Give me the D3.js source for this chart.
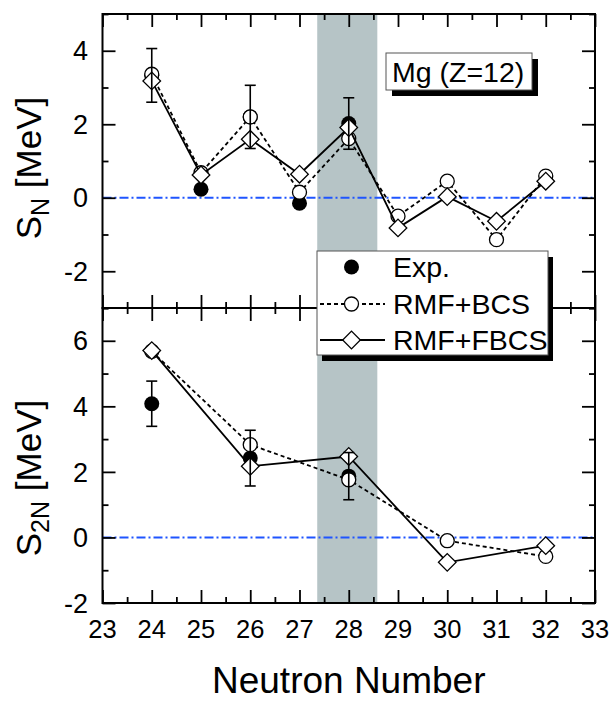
<!DOCTYPE html>
<html>
<head>
<meta charset="utf-8">
<script src="https://cdn.jsdelivr.net/npm/d3@7"></script>
<style>
  html, body { margin: 0; padding: 0; background: #fff; }
  svg { display: block; }
  text { font-family: "Liberation Sans", Arial, sans-serif; fill: #000; }
</style>
</head>
<body>
<svg id="chart" width="612" height="702"></svg>
<script>
// ---------------- data ----------------
const xTicks = [23, 24, 25, 26, 27, 28, 29, 30, 31, 32, 33];
const topYTicks = [-2, 0, 2, 4];
const botYTicks = [-2, 0, 2, 4, 6];

const neutrons = [24, 25, 26, 27, 28, 29, 30, 31, 32];
const snBCS  = [3.36, 0.68, 2.20, 0.15, 1.61, -0.50, 0.45, -1.14, 0.59];
const snFBCS = [3.18, 0.62, 1.59, 0.64, 1.91, -0.82, 0.03, -0.64, 0.45];
const snExpN   = [24, 25, 26, 27, 28];
const snExp    = [3.33, 0.23, 2.20, -0.15, 2.02];
const snExpErr = [0.73, 0.08, 0.86, 0.08, 0.70];

const s2nN    = [24, 26, 28, 30, 32];
const s2nBCS  = [5.68, 2.83, 1.76, -0.10, -0.58];
const s2nFBCS = [5.70, 2.17, 2.47, -0.76, -0.25];
const s2nExpN   = [24, 26, 28];
const s2nExp    = [4.08, 2.42, 1.87];
const s2nExpErr = [0.69, 0.85, 0.72];

const shellBand = [27.36, 28.58];
const legendLabels = ["Exp.", "RMF+BCS", "RMF+FBCS"];
const nucleusLabel = "Mg (Z=12)";

// ---------------- layout ----------------
const svg = d3.select("#chart");
const L = 102.5, R = 595, T = 14, MID = 308, B = 603;
const x = d3.scaleLinear().domain([23, 33]).range([L, R]);
const yTop = d3.scaleLinear().domain([-3, 5]).range([MID, T]);
const yBot = d3.scaleLinear().domain([-2, 7]).range([B, MID]);

function panel(y, yTicks, bcsX, bcs, fbcsX, fbcs, expX, exp, expErr) {
  const [y0, y1] = y.range(); // bottom, top
  const g = svg.append("g");
  // shaded band
  g.append("rect")
    .attr("x", x(shellBand[0])).attr("width", x(shellBand[1]) - x(shellBand[0]))
    .attr("y", y1).attr("height", y0 - y1)
    .attr("fill", "#b6c4c6");
  // zero line
  g.append("line")
    .attr("x1", L).attr("x2", R).attr("y1", y(0)).attr("y2", y(0))
    .attr("stroke", "#1f55ff").attr("stroke-width", 2)
    .attr("stroke-dasharray", "9,3,2,3");

  // Exp markers
  g.selectAll(".exp").data(expX).enter().append("circle")
    .attr("cx", d => x(d)).attr("cy", (d, i) => y(exp[i])).attr("r", 7.5)
    .attr("fill", "#000");

  // BCS
  const line = d3.line().x(d => x(d[0])).y(d => y(d[1]));
  g.append("path").datum(bcsX.map((d, i) => [d, bcs[i]]))
    .attr("d", line).attr("fill", "none").attr("stroke", "#000")
    .attr("stroke-width", 1.8).attr("stroke-dasharray", "4,3");
  g.selectAll(".bcs").data(bcsX).enter().append("circle")
    .attr("cx", d => x(d)).attr("cy", (d, i) => y(bcs[i])).attr("r", 7)
    .attr("fill", "#fff").attr("stroke", "#000").attr("stroke-width", 1.3);

  // FBCS
  g.append("path").datum(fbcsX.map((d, i) => [d, fbcs[i]]))
    .attr("d", line).attr("fill", "none").attr("stroke", "#000")
    .attr("stroke-width", 1.8);
  const diamond = d3.symbol().type(d3.symbolSquare).size(155);
  g.selectAll(".fbcs").data(fbcsX).enter().append("path")
    .attr("d", diamond())
    .attr("transform", (d, i) => `translate(${x(d)},${y(fbcs[i])}) rotate(45)`)
    .attr("fill", "#fff").attr("stroke", "#000").attr("stroke-width", 1.3);

  // error bars
  expX.forEach((d, i) => {
    const cx = x(d), hi = y(exp[i] + expErr[i]), lo = y(exp[i] - expErr[i]);
    g.append("line").attr("x1", cx).attr("x2", cx).attr("y1", hi).attr("y2", lo)
      .attr("stroke", "#000").attr("stroke-width", 1.6);
    [hi, lo].forEach(yy => g.append("line")
      .attr("x1", cx - 5.5).attr("x2", cx + 5.5).attr("y1", yy).attr("y2", yy)
      .attr("stroke", "#000").attr("stroke-width", 1.6));
  });

  // axes (ticks inward)
  const ax = svg.append("g").attr("class", "axes");
  const minorY = d3.range(y.domain()[0], y.domain()[1] + 0.001, 1).filter(v => !yTicks.includes(v));
  ax.append("g").attr("transform", `translate(${L},0)`)
    .call(d3.axisRight(y).tickValues(minorY).tickSize(6).tickFormat(""));
  ax.append("g").attr("transform", `translate(${L},0)`)
    .call(d3.axisRight(y).tickValues(yTicks).tickSize(13).tickFormat(""));
  ax.append("g").attr("transform", `translate(${R},0)`)
    .call(d3.axisLeft(y).tickValues(minorY).tickSize(6).tickFormat(""));
  ax.append("g").attr("transform", `translate(${R},0)`)
    .call(d3.axisLeft(y).tickValues(yTicks).tickSize(13).tickFormat(""));
  const minorX = d3.range(23.5, 33, 1);
  ax.append("g").attr("transform", `translate(0,${y0})`)
    .call(d3.axisTop(x).tickValues(minorX).tickSize(6).tickFormat(""));
  ax.append("g").attr("transform", `translate(0,${y0})`)
    .call(d3.axisTop(x).tickValues(xTicks).tickSize(13).tickFormat(""));
  ax.append("g").attr("transform", `translate(0,${y1})`)
    .call(d3.axisBottom(x).tickValues(minorX).tickSize(6).tickFormat(""));
  ax.append("g").attr("transform", `translate(0,${y1})`)
    .call(d3.axisBottom(x).tickValues(xTicks).tickSize(13).tickFormat(""));
  ax.selectAll(".domain").remove();
  ax.selectAll(".tick line").attr("stroke", "#000").attr("stroke-width", 1.8);

  // y tick labels
  ax.append("g").selectAll("text").data(yTicks).enter().append("text")
    .attr("x", 88).attr("y", d => y(d)).attr("dy", "0.36em")
    .attr("text-anchor", "end").attr("font-size", 27).text(d => d);

  // frame
  svg.append("rect").attr("x", L).attr("y", y1).attr("width", R - L).attr("height", y0 - y1)
    .attr("fill", "none").attr("stroke", "#000").attr("stroke-width", 2);
}

panel(yTop, topYTicks, neutrons, snBCS, neutrons, snFBCS, snExpN, snExp, snExpErr);
panel(yBot, botYTicks, s2nN, s2nBCS, s2nN, s2nFBCS, s2nExpN, s2nExp, s2nExpErr);

// x tick labels
svg.append("g").selectAll("text").data(xTicks).enter().append("text")
  .attr("x", d => x(d)).attr("y", 638).attr("text-anchor", "middle")
  .attr("font-size", 25.5).text(d => d);

// x title
svg.append("text").attr("x", (L + R) / 2).attr("y", 693).attr("text-anchor", "middle")
  .attr("font-size", 37).text("Neutron Number");

// y titles
function yTitle(cx, cy, sub) {
  const t = svg.append("text").attr("transform", `translate(${cx},${cy}) rotate(-90)`)
    .attr("text-anchor", "middle").attr("font-size", 35);
  t.append("tspan").text("S");
  t.append("tspan").attr("font-size", 25).attr("dy", 8).text(sub);
  t.append("tspan").attr("dy", -8).text(" [MeV]");
}
yTitle(41, 168, "N");
yTitle(41, 478, "2N");

// nucleus label box with shadow
const mg = { x: 386, y: 53, w: 146, h: 37 };
svg.append("rect").attr("x", mg.x + 6).attr("y", mg.y + 6).attr("width", mg.w).attr("height", mg.h).attr("fill", "#000");
svg.append("rect").attr("x", mg.x).attr("y", mg.y).attr("width", mg.w).attr("height", mg.h)
  .attr("fill", "#fff").attr("stroke", "#555").attr("stroke-width", 1);
svg.append("text").attr("x", mg.x + 6).attr("y", mg.y + 29).attr("font-size", 28.5).text(nucleusLabel);

// legend
const lg = { x: 317, y: 251, w: 231, h: 104 };
svg.append("rect").attr("x", lg.x + 5).attr("y", lg.y + 6).attr("width", lg.w).attr("height", lg.h).attr("fill", "#000");
svg.append("rect").attr("x", lg.x).attr("y", lg.y).attr("width", lg.w).attr("height", lg.h)
  .attr("fill", "#fff").attr("stroke", "#555").attr("stroke-width", 1);
const rowsY = [267, 304, 340];
const symX = 351.5;
// Exp
svg.append("circle").attr("cx", symX).attr("cy", rowsY[0]).attr("r", 7.5).attr("fill", "#000");
// BCS
svg.append("line").attr("x1", 320).attr("x2", 385).attr("y1", rowsY[1]).attr("y2", rowsY[1])
  .attr("stroke", "#000").attr("stroke-width", 1.8).attr("stroke-dasharray", "4,3");
svg.append("circle").attr("cx", symX).attr("cy", rowsY[1]).attr("r", 7)
  .attr("fill", "#fff").attr("stroke", "#000").attr("stroke-width", 1.3);
// FBCS
svg.append("line").attr("x1", 320).attr("x2", 385).attr("y1", rowsY[2]).attr("y2", rowsY[2])
  .attr("stroke", "#000").attr("stroke-width", 1.8);
svg.append("path").attr("d", d3.symbol().type(d3.symbolSquare).size(155)())
  .attr("transform", `translate(${symX},${rowsY[2]}) rotate(45)`)
  .attr("fill", "#fff").attr("stroke", "#000").attr("stroke-width", 1.3);
svg.append("g").selectAll("text").data(legendLabels).enter().append("text")
  .attr("x", 393).attr("y", (d, i) => rowsY[i]).attr("dy", "0.36em")
  .attr("font-size", 28.5).text(d => d);
</script>
</body>
</html>
